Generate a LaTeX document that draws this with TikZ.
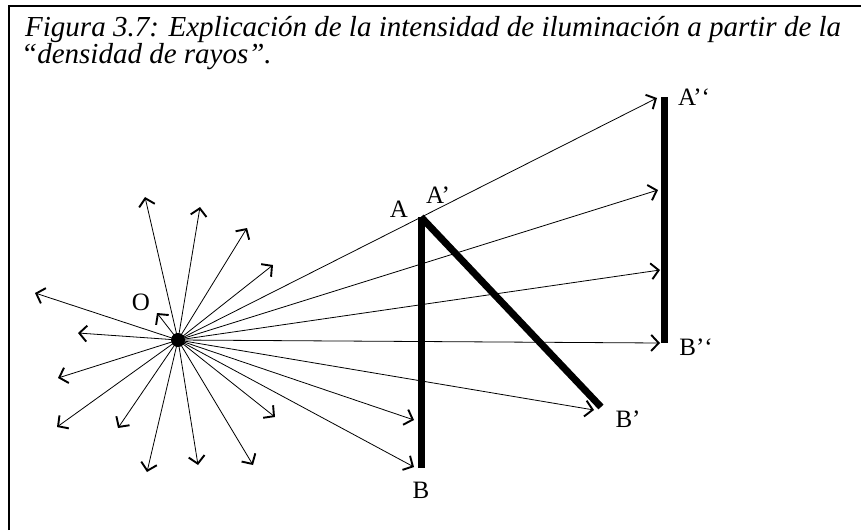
\documentclass[tikz,border=0pt]{standalone}
\usepackage{fontspec}
\setmainfont{Liberation Serif}
\usetikzlibrary{arrows.meta}
\begin{document}
\begin{tikzpicture}[x=1pt,y=-1pt,>={Straight Barb[length=7.5pt,width=16pt,line width=1.9pt]},
	ray/.style={->,line width=0.8pt},
	screen/.style={line width=7pt},
	lbl/.style={inner sep=0pt,font=\fontsize{25}{30}\selectfont},
	caption/.style={anchor=base west,inner sep=0pt,font=\fontsize{29}{34}\selectfont\itshape}]
	\useasboundingbox (0,0) rectangle (861,530);
	\draw[line width=2pt] (9,530) -- (9,6) -- (861,6);
	\node[caption] (title1) at (25,36) {Figura 3.7: Explicación de la intensidad de iluminación a partir de la};
	\node[caption] (title2) at (21,63) {“densidad de rayos”.};
	\node[circle,fill,minimum size=14pt,inner sep=0pt] (O) at (178,340) {};
	\coordinate (A) at (421,217);
	\coordinate (B) at (421,468);
	\coordinate (Bp) at (601,407);
	\coordinate (App) at (664.5,97);
	\coordinate (Bpp) at (664.5,343);
	\foreach \x/\y [count=\i] in {145/197,200/207,247/228,273/265,35/293,78/333,157/313,58/378,57/427,118/428,147/472,198/465,253/465,275/417}
		{\coordinate (l\i) at (\x,\y);
		\draw[ray] (O.center) -- (l\i);}
	\foreach \x/\y [count=\i] in {657/98,658/190,660/270,660/343,594/410,414/420,414/467}
		{\coordinate (r\i) at (\x,\y);
		\draw[ray] (O.center) -- (r\i);}
	\draw[screen] (B) -- (A);
	\draw[screen] (A) -- (Bp);
	\draw[screen] (App) -- (Bpp);
	\node[lbl] (lO) at (141,302) {O};
	\node[lbl] (lA) at (399,209) {A};
	\node[lbl] (lAp) at (438,195) {A’};
	\node[lbl] (lB) at (421,490) {B};
	\node[lbl] (lBp) at (628,419) {B’};
	\node[lbl] (lApp) at (694,97) {A’‘};
	\node[lbl] (lBpp) at (696,347) {B’‘};
\end{tikzpicture}
\end{document}
